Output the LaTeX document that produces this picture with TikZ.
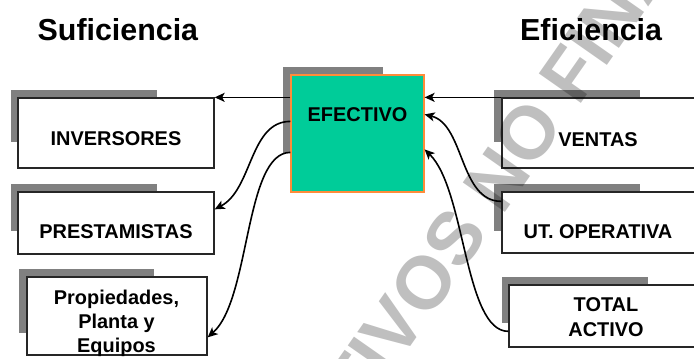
\documentclass[tikz,border=0pt]{standalone}
\usepackage{fontspec}
\setmainfont{Liberation Sans}
\usetikzlibrary{arrows.meta,calc}
\definecolor{efefill}{HTML}{00CC99}
\definecolor{efeline}{HTML}{FF8C3A}
\definecolor{shdgray}{HTML}{808080}
\begin{document}
\begin{tikzpicture}[x=1bp,y=-1bp,
  box/.style={draw=black!85, line width=1.3bp, fill=white, inner sep=0pt},
  shd/.style={fill=shdgray},
  lbl/.style={font=\fontsize{20}{24.5}\selectfont\bfseries, align=center, inner sep=0pt},
  ttl/.style={font=\fontsize{30.5}{36}\selectfont\bfseries, inner sep=0pt, anchor=base west},
  arr/.style={-{Stealth[length=10bp,width=9bp,inset=2.5bp]}, line width=1.6bp},
  wmark/.style={font=\fontsize{75}{75}\selectfont\bfseries, text=black, opacity=0.25, inner sep=0pt}
]
\useasboundingbox (0,0) rectangle (694,358);
\clip (0,0) rectangle (694,358);

% titles
\node[ttl] (tsuf) at (37.5,40) {Suficiencia};
\node[ttl] (tefi) at (520,40) {Eficiencia};

% shadows
\fill[shd] (11,90) rectangle (157,142);
\fill[shd] (11,184) rectangle (157,231);
\fill[shd] (19,269) rectangle (154,333);
\fill[shd] (283,67) rectangle (383,153);
\fill[shd] (494,90) rectangle (640,142);
\fill[shd] (494,184) rectangle (640,231);
\fill[shd] (502,277) rectangle (648,323);

% boxes
\node[box, minimum width=196bp, minimum height=70bp] (inv) at (116,133) {};
\node[box, minimum width=196bp, minimum height=62bp] (pre) at (116,223) {};
\node[box, minimum width=180bp, minimum height=78bp] (pro) at (117,316) {};
\node[box, draw=efeline, fill=efefill, line width=1.2bp, minimum width=133bp, minimum height=117bp] (efe) at (357.5,133.5) {};
\node[box, minimum width=194bp, minimum height=70bp] (ven) at (599,133) {};
\node[box, minimum width=194bp, minimum height=61bp] (ut) at (599,222.5) {};
\node[box, minimum width=196bp, minimum height=62bp] (tot) at (607,316) {};

% labels
\node[lbl] (tinv) at (116,139) {INVERSORES};
\node[lbl] (tpre) at (116,232) {PRESTAMISTAS};
\node[lbl] (tpro) at (116.5,323.3) {Propiedades,\\Planta y\\Equipos};
\node[lbl] (tefe) at (357.5,115) {EFECTIVO};
\node[lbl] (tven) at (598,139.5) {VENTAS};
\node[lbl] (tut) at (598,232) {UT. OPERATIVA};
\node[lbl] (ttot) at (606,317) {TOTAL\\ACTIVO};

% connectors
\draw[arr] (efe.west |- inv.north) -- (inv.north east);
\draw[arr] (ven.north west) -- (efe.east |- ven.north);
\draw[arr] ($(ut.north west)+(0,10)$) .. controls +(-42,0) and +(40,10) .. ($(efe.north east)+(0,40)$);
\draw[arr] ($(tot.north west)+(0,47)$) .. controls +(-44,0) and +(41,40) .. ($(efe.north east)+(0,75)$);
\draw[arr] ($(efe.north west)+(0,47)$) .. controls +(-41,0) and +(38,-20) .. ($(pre.north east)+(0,18)$);
\draw[arr] ($(efe.north west)+(0,78)$) .. controls +(-46,0) and +(43,-38) .. ($(pro.north east)+(0,61)$);

% watermark
\node[wmark, rotate=55] (wm) at (565.5,80.5) {ACTIVOS NO FINANCIEROS};
\end{tikzpicture}
\end{document}
